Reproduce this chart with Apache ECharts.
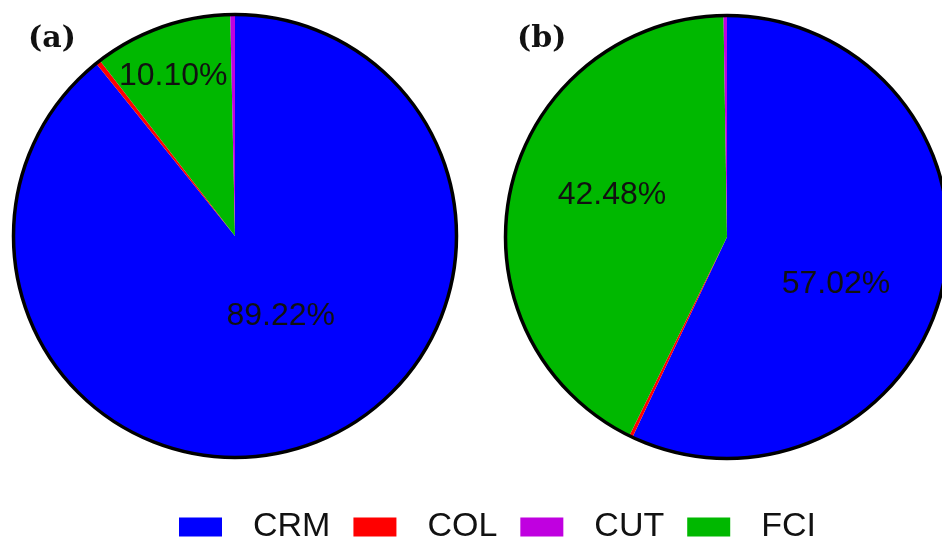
<!DOCTYPE html>
<html>
<head>
<meta charset="utf-8">
<script src="https://cdn.jsdelivr.net/npm/echarts@6/dist/echarts.min.js"></script>
<style>
html,body{margin:0;padding:0;background:#fff;}
#chart{width:942px;height:541px;}
</style>
</head>
<body>
<div id="chart"></div>
<script>
// ---- data ----
const categories = ['CRM', 'COL', 'FCI', 'CUT'];      // clockwise order from 12 o'clock
const legendOrder = ['CRM', 'COL', 'CUT', 'FCI'];
const valuesA = [89.22, 0.34, 10.10, 0.34];
const valuesB = [57.02, 0.25, 42.48, 0.25];
const panelLabels = ['(a)', '(b)'];
const labelledCats = ['CRM', 'FCI'];

// ---- styling ----
const colors = { CRM: '#0000FF', COL: '#FF0000', CUT: '#C000E0', FCI: '#00B800' };
const R = 221.5;
const centerA = [235, 236];
const centerB = [727, 237];
const offsetsA = { CRM: [8, -27], FCI: [-24, -53] };
const offsetsB = { CRM: [-2, 22], FCI: [-4, -17] };

function buildData(values, offsets) {
  return categories.map((c, i) => ({
    name: c,
    value: values[i],
    itemStyle: { color: colors[c] },
    label: {
      show: labelledCats.indexOf(c) >= 0,
      offset: offsets[c] || [0, 0]
    }
  }));
}

function pieSeries(center, values, offsets) {
  return {
    type: 'pie',
    center: center,
    radius: [0, R],
    startAngle: 90,
    clockwise: true,
    avoidLabelOverlap: false,
    animation: false,
    silent: true,
    label: {
      position: 'inside',
      formatter: p => p.value.toFixed(2) + '%',
      color: '#111',
      fontSize: 32,
      fontFamily: 'Liberation Sans, Arial, sans-serif'
    },
    labelLine: { show: false },
    itemStyle: { borderWidth: 0 },
    data: buildData(values, offsets)
  };
}

function outlineSeries(center) {
  return {
    type: 'pie',
    center: center,
    radius: [0, R],
    animation: false,
    silent: true,
    label: { show: false },
    labelLine: { show: false },
    itemStyle: { color: 'rgba(0,0,0,0)', borderColor: '#000', borderWidth: 3.5 },
    data: [{ name: 'outline', value: 1 }]
  };
}

const chart = echarts.init(document.getElementById('chart'), null, { renderer: 'canvas' });
chart.setOption({
  backgroundColor: '#fff',
  title: [
    { text: panelLabels[0], left: 23, top: 19,
      textStyle: { fontFamily: 'DejaVu Serif', fontWeight: 'bold', fontSize: 30, color: '#111' } },
    { text: panelLabels[1], left: 512, top: 19,
      textStyle: { fontFamily: 'DejaVu Serif', fontWeight: 'bold', fontSize: 30, color: '#111' } }
  ],
  legend: {
    data: legendOrder.map(n => ({ name: n, icon: 'rect' })),
    left: 174,
    top: 505,
    itemWidth: 43,
    itemHeight: 19,
    itemGap: 23,
    selectedMode: false,
    textStyle: {
      fontFamily: 'Liberation Sans, Arial, sans-serif',
      fontSize: 34,
      color: '#111',
      padding: [0, 0, 0, 26]
    }
  },
  series: [
    pieSeries(centerA, valuesA, offsetsA),
    outlineSeries(centerA),
    pieSeries(centerB, valuesB, offsetsB),
    outlineSeries(centerB)
  ]
});
</script>
</body>
</html>
